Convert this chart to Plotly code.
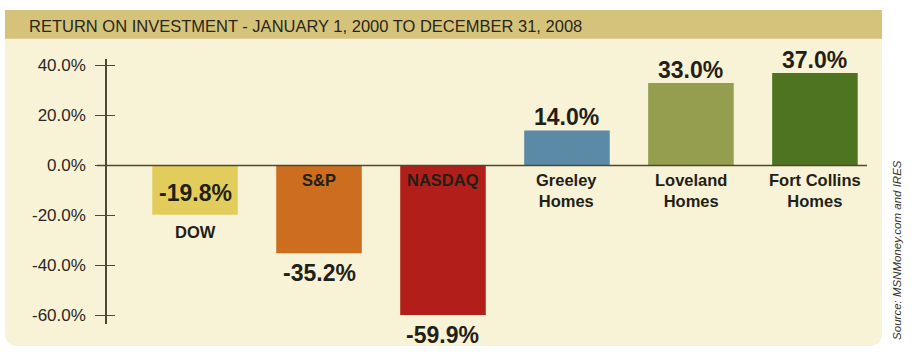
import plotly.graph_objects as go

# ---- data ----
categories = ["DOW", "S&P", "NASDAQ", "Greeley Homes", "Loveland Homes", "Fort Collins Homes"]
category_labels = ["DOW", "S&P", "NASDAQ", "Greeley<br>Homes", "Loveland<br>Homes", "Fort Collins<br>Homes"]
returns = [-19.8, -35.2, -59.9, 14.0, 33.0, 37.0]
tick_values = [40, 20, 0, -20, -40, -60]
tick_labels = ["40.0%", "20.0%", "0.0%", "-20.0%", "-40.0%", "-60.0%"]
title_text = "RETURN ON INVESTMENT - JANUARY 1, 2000 TO DECEMBER 31, 2008"
source_text = "Source: MSNMoney.com and IRES"

# ---- style ----
bar_colors = ["#e2cd5c", "#cc6d1f", "#b21f1a", "#5b8aa6", "#959d4e", "#4f7421"]
inside_label = ["value", "name", "name", "", "", ""]   # which label sits inside a negative bar
W, H = 912, 356
CREAM = "#f8f2d6"
TAN = "#d5c37c"
INK = "#231f17"
AXIS = "#4d4733"
FONT = "Liberation Sans, Arial, Helvetica, sans-serif"


def px(x):
    return x / W


def py(y):
    return 1 - y / H


fig = go.Figure()
fig.add_trace(go.Bar(
    x=categories, y=returns, marker=dict(color=bar_colors, line=dict(width=0)),
    width=0.69, hoverinfo="skip", showlegend=False,
))
# invisible trace on overlay axis so inside ticks render
fig.add_trace(go.Scatter(x=[categories[0]], y=[0], yaxis="y2", mode="markers",
                         marker=dict(opacity=0), hoverinfo="skip", showlegend=False))

# ---- panel background ----
x0, x1, y0, y1, r = px(5), px(882), py(8), py(347), 14
rx, ry = r / W, r / H
panel_path = (f"M {x0},{y0} L {x1},{y0} L {x1},{y1 + ry} Q {x1},{y1} {x1 - rx},{y1} "
              f"L {x0 + rx},{y1} Q {x0},{y1} {x0},{y1 + ry} Z")
shapes = [
    dict(type="path", xref="paper", yref="paper", path=panel_path,
         fillcolor=CREAM, line=dict(width=0), layer="below"),
    dict(type="rect", xref="paper", yref="paper", x0=x0, x1=x1, y0=py(37), y1=y0,
         fillcolor=TAN, line=dict(width=0), layer="below"),
    dict(type="line", xref="paper", yref="y", x0=px(97), x1=px(867), y0=0, y1=0,
         line=dict(color=AXIS, width=1.5), layer="above"),
]

annotations = [
    dict(text=title_text, xref="paper", yref="paper", x=px(27), y=py(24),
         xanchor="left", yanchor="middle", showarrow=False,
         font=dict(family=FONT, size=16.5, color="#2a2618")),
    dict(text=source_text, xref="paper", yref="paper", x=px(897), y=py(250),
         xanchor="center", yanchor="middle", showarrow=False, textangle=-90,
         font=dict(family=FONT, size=11.5, color="#333027", style="italic")),
]

VAL_FONT = dict(family=FONT, size=23, color=INK, weight="bold")
CAT_FONT = dict(family=FONT, size=16.5, color=INK, weight="bold")

for cat, lab, v, ins in zip(categories, category_labels, returns, inside_label):
    vtxt = f"{v:.1f}%"
    if v >= 0:
        annotations.append(dict(x=cat, y=v, text=vtxt, showarrow=False, yanchor="bottom",
                                yshift=-2, font=VAL_FONT))
        annotations.append(dict(x=cat, y=0, text=lab, showarrow=False, yanchor="top",
                                yshift=-4, font=CAT_FONT))
    else:
        if ins == "value":
            annotations.append(dict(x=cat, y=0, text=vtxt, showarrow=False, yanchor="top",
                                    yshift=-13, font=VAL_FONT))
            annotations.append(dict(x=cat, y=v, text=lab, showarrow=False, yanchor="top",
                                    yshift=-6, font=CAT_FONT))
        else:
            annotations.append(dict(x=cat, y=0, text=lab, showarrow=False, yanchor="top",
                                    yshift=-4, font=CAT_FONT))
            annotations.append(dict(x=cat, y=v, text=vtxt, showarrow=False, yanchor="top",
                                    yshift=-5, font=VAL_FONT))

yrange = [-63.6, 42.8]
fig.update_layout(
    width=W, height=H, margin=dict(l=0, r=0, t=0, b=0),
    paper_bgcolor="white", plot_bgcolor="rgba(0,0,0,0)",
    xaxis=dict(domain=[px(107), px(867)], type="category", categoryarray=categories,
               range=[-0.71, 5.42], showticklabels=False, showgrid=False,
               zeroline=False, showline=False, ticks=""),
    yaxis=dict(domain=[py(325), py(57)], range=yrange, tickvals=tick_values,
               ticktext=tick_labels, ticks="outside", ticklen=10, tickwidth=1.3,
               tickcolor=AXIS, showline=True, linecolor=AXIS, linewidth=1.5,
               showgrid=False, zeroline=False, ticklabelstandoff=6,
               tickfont=dict(family=FONT, size=17, color="#2b2822")),
    yaxis2=dict(domain=[py(325), py(57)], range=yrange, overlaying="y", side="left",
                anchor="x", tickvals=tick_values, ticks="inside", ticklen=8, tickwidth=1.3,
                tickcolor=AXIS, showticklabels=False, showgrid=False, zeroline=False,
                showline=False),
    shapes=shapes, annotations=annotations, bargap=0.3,
)

fig.write_html("out.html", config={"displayModeBar": False},
               post_script="document.body.style.margin='0';")
